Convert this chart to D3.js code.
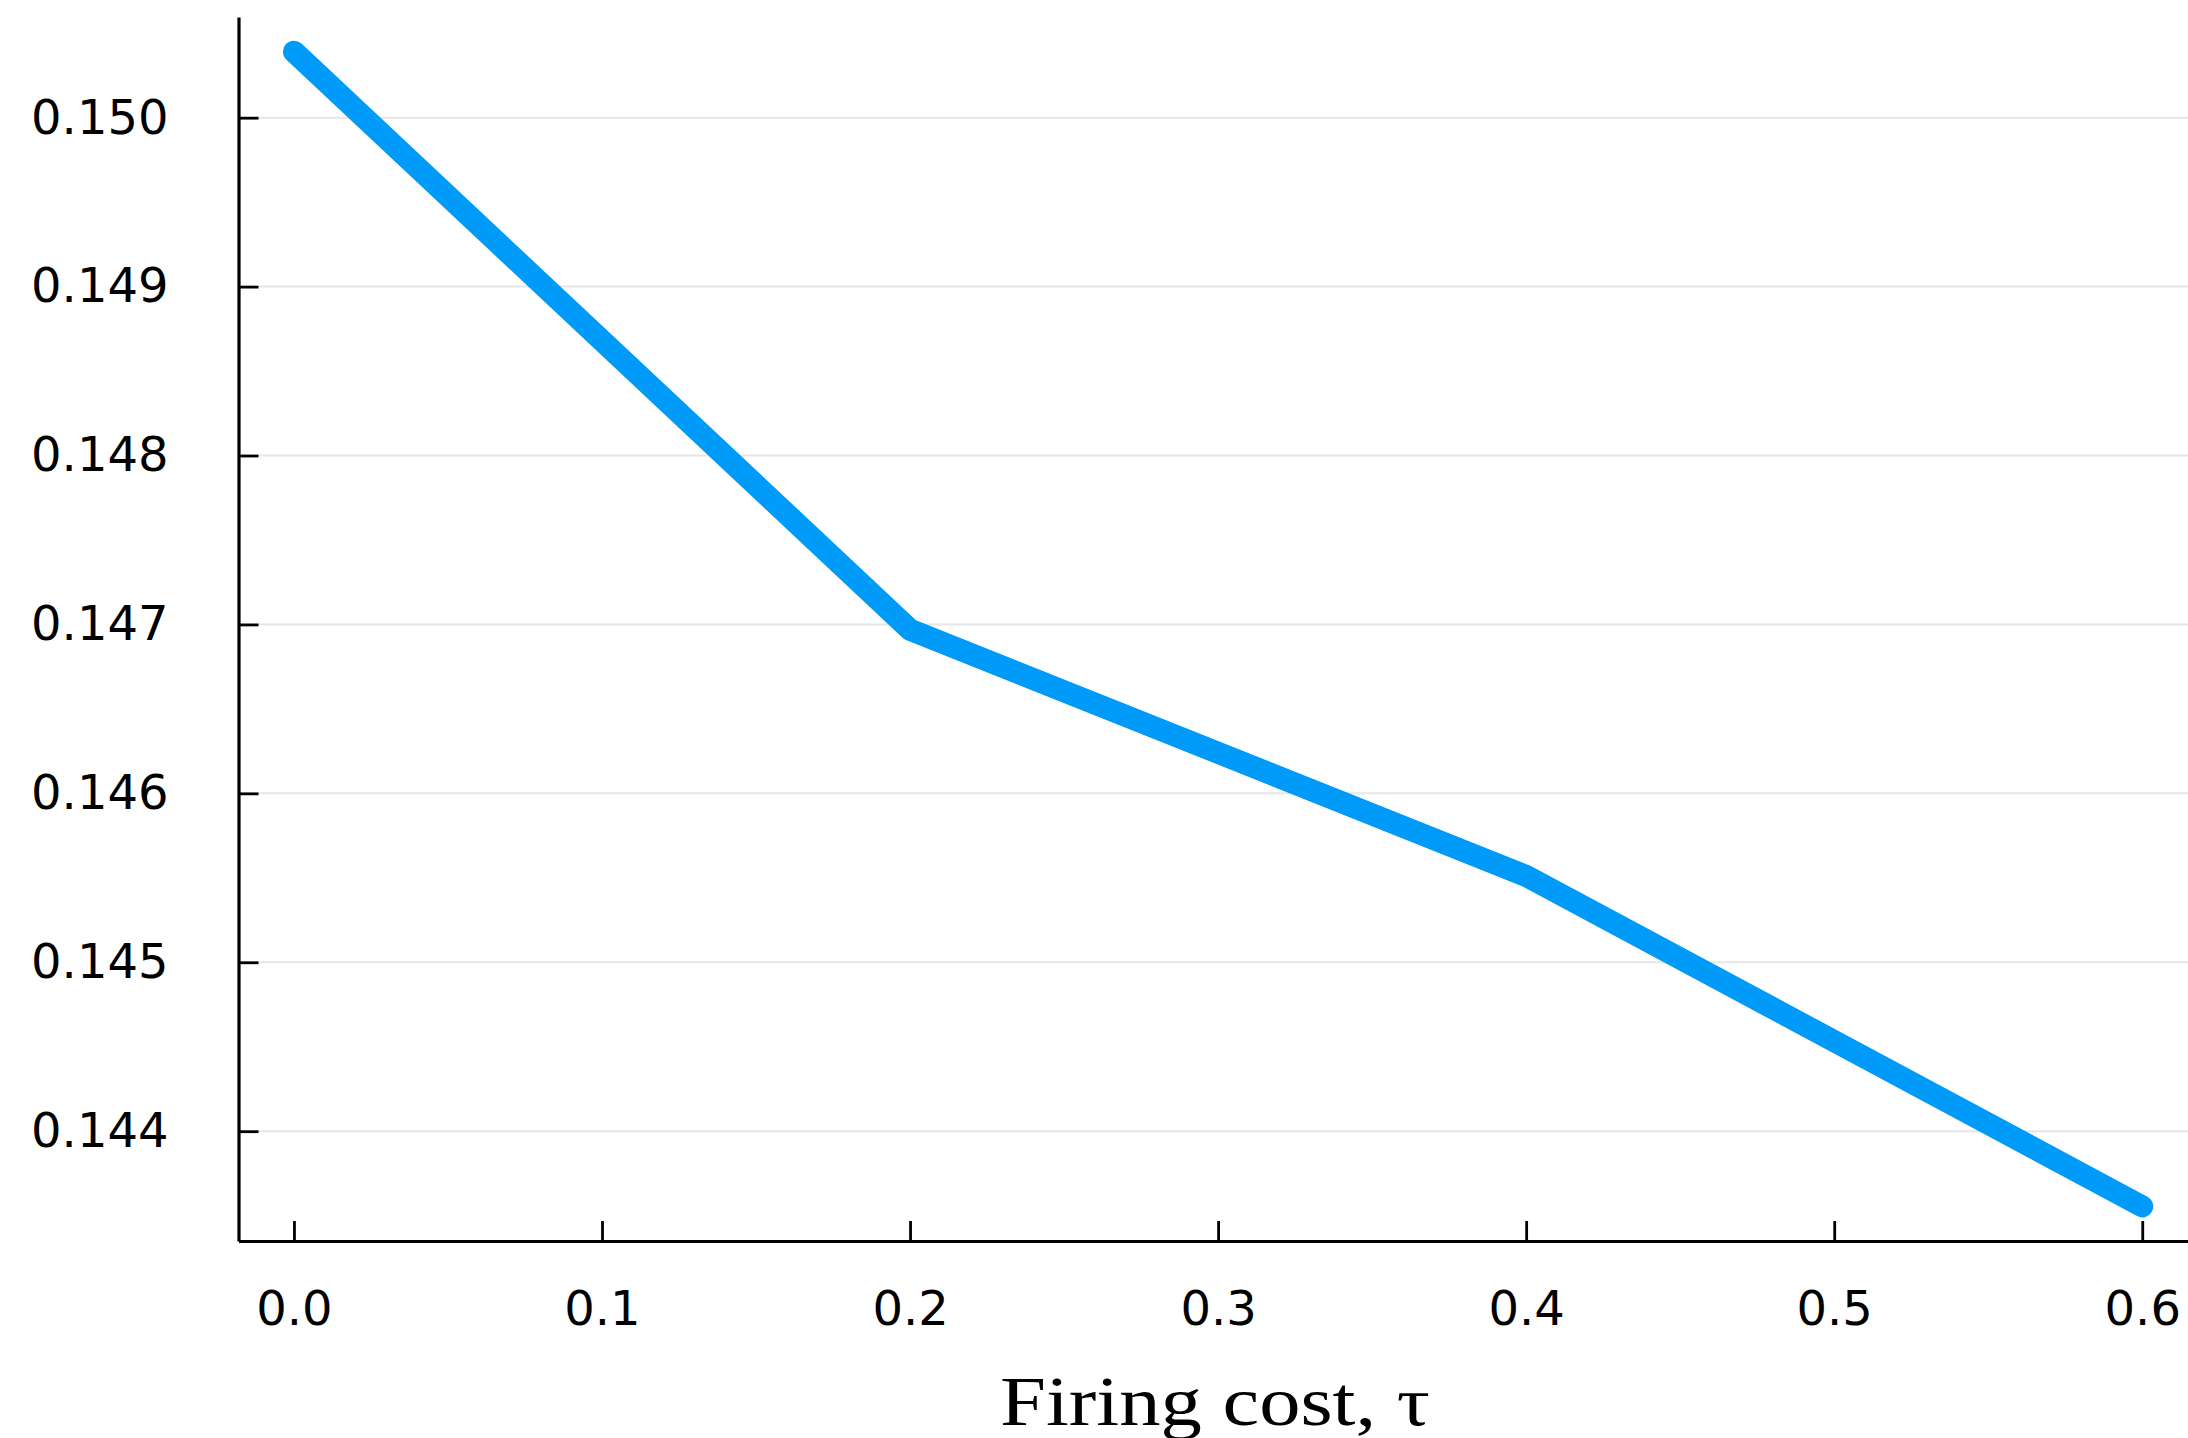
<!DOCTYPE html>
<html>
<head>
<meta charset="utf-8">
<script src="https://cdn.jsdelivr.net/npm/d3@7"></script>
<style>
  body { margin: 0; background: #fff; }
</style>
</head>
<body>
<div id="chart"></div>
<script>
const tau = [0.0, 0.2, 0.4, 0.6];
const unemp = [0.150391, 0.146969, 0.145511, 0.143555];
const xTicks = [0.0, 0.1, 0.2, 0.3, 0.4, 0.5, 0.6];
const yTicks = [0.144, 0.145, 0.146, 0.147, 0.148, 0.149, 0.150];
const xLabel = 'Firing cost, τ';

const width = 2188;
const height = 1438;
const margin = { top: 17, left: 238.5, right: -9.7, bottom: 197 };

const svg = d3
  .select('#chart')
  .append('svg')
  .attr('width', width)
  .attr('height', height);

// Plots.jl style: 3% padding around the data
const pad = (ext) => {
  const d = (ext[1] - ext[0]) * 0.03;
  return [ext[0] - d, ext[1] + d];
};

const x = d3
  .scaleLinear()
  .domain(pad(d3.extent(tau)))
  .range([margin.left, width - margin.right]);

const y = d3
  .scaleLinear()
  .domain(pad(d3.extent(unemp)))
  .range([height - margin.bottom, margin.top]);

// grid
svg
  .append('g')
  .selectAll('line')
  .data(yTicks)
  .enter()
  .append('line')
  .attr('x1', margin.left)
  .attr('x2', width - margin.right)
  .attr('y1', (d) => y(d))
  .attr('y2', (d) => y(d))
  .attr('stroke', '#e6e6e6')
  .attr('stroke-width', 2);

// axes
const yAxis = svg
  .append('g')
  .attr('transform', `translate(${margin.left},0)`)
  .call(
    d3
      .axisLeft(y)
      .tickValues(yTicks)
      .tickFormat(d3.format('.3f'))
      .tickSizeInner(-20)
      .tickSizeOuter(0)
      .tickPadding(70)
  );

const xAxis = svg
  .append('g')
  .attr('transform', `translate(0,${height - margin.bottom})`)
  .call(
    d3
      .axisBottom(x)
      .tickValues(xTicks)
      .tickFormat(d3.format('.1f'))
      .tickSizeInner(-20)
      .tickSizeOuter(0)
      .tickPadding(50)
  );

[yAxis, xAxis].forEach((g) => {
  g.select('.domain').attr('stroke', '#000').attr('stroke-width', 3.2);
  g.selectAll('.tick line').attr('stroke', '#000').attr('stroke-width', 2.8);
  g.selectAll('.tick text')
    .attr('fill', '#000')
    .style('font-family', 'DejaVu Sans')
    .style('font-size', '48px');
});

// series
const line = d3
  .line()
  .x((d, i) => x(tau[i]))
  .y((d) => y(d));

svg
  .append('path')
  .datum(unemp)
  .attr('d', line)
  .attr('fill', 'none')
  .attr('stroke', '#009af9')
  .attr('stroke-width', 22)
  .attr('stroke-linecap', 'round')
  .attr('stroke-linejoin', 'round');

// x label (computer modern look-alike, stretched a bit wider)
svg
  .append('text')
  .text(xLabel)
  .attr('text-anchor', 'middle')
  .attr('x', 1215)
  .attr('y', 1425)
  .attr('textLength', 430)
  .attr('lengthAdjust', 'spacingAndGlyphs')
  .attr('fill', '#000')
  .style('font-family', 'Liberation Serif')
  .style('font-size', '70px');
</script>
</body>
</html>
